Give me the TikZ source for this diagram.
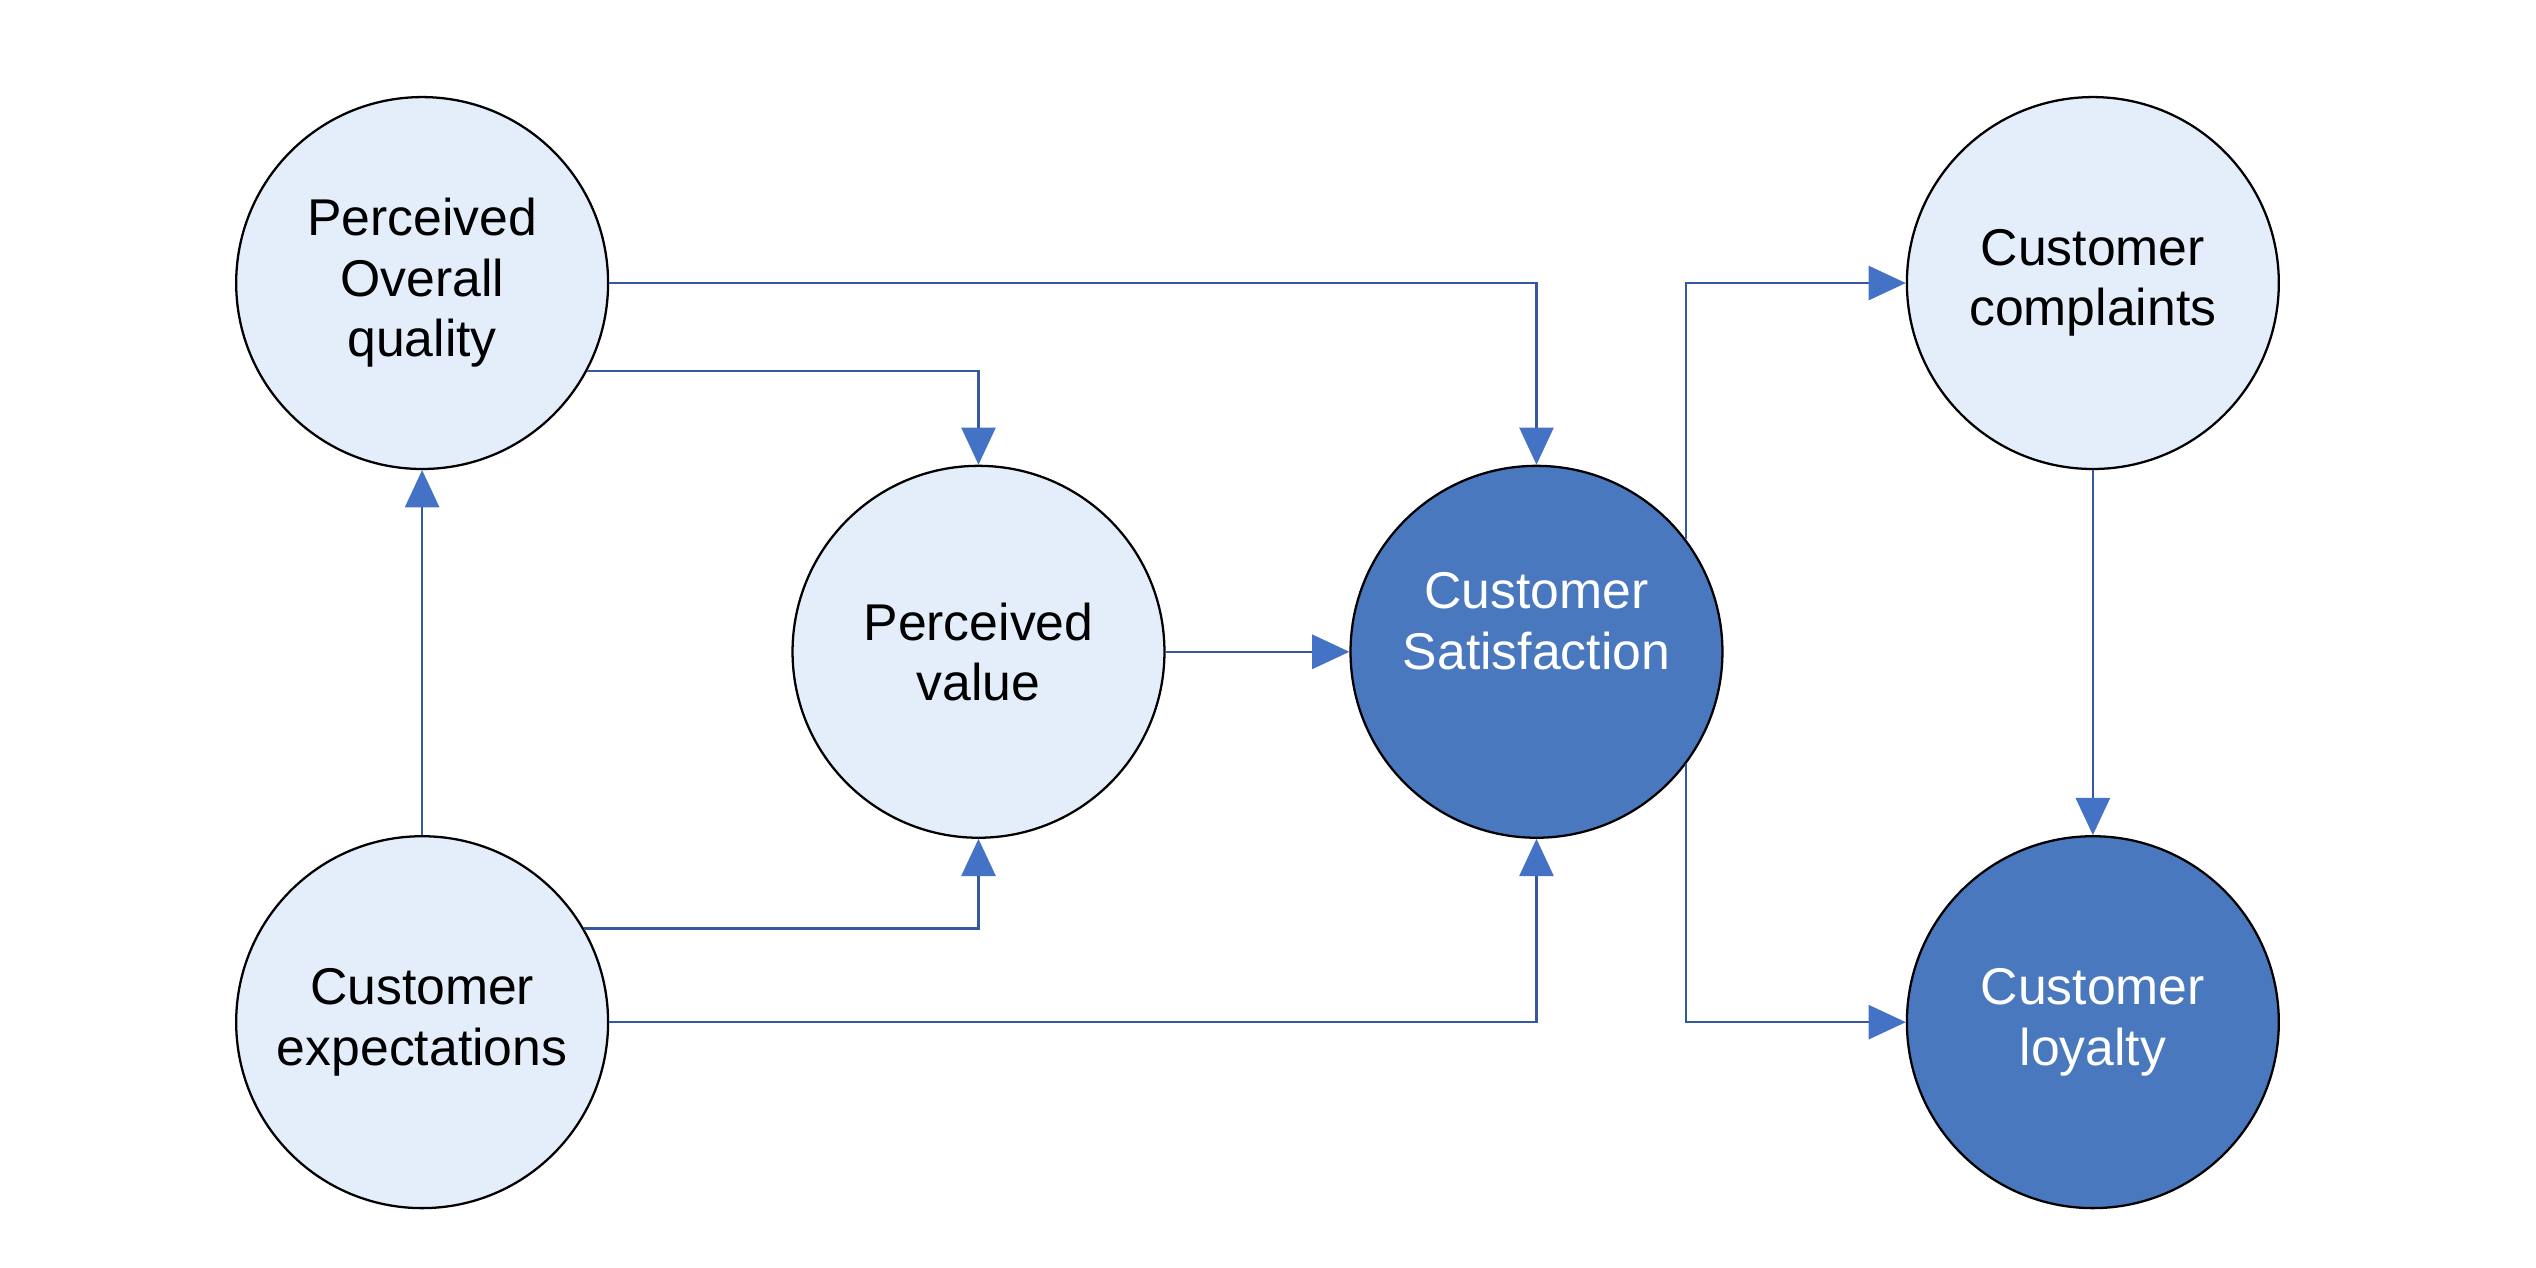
\documentclass[tikz,border=0pt]{standalone}
\usepackage{fontspec}
\setmainfont{Liberation Sans}
\usetikzlibrary{arrows.meta}
\definecolor{lightfill}{HTML}{E4EEFA}
\definecolor{darkfill}{HTML}{4A78BE}
\definecolor{linecol}{HTML}{34599F}
\definecolor{tipcol}{HTML}{4472C4}
\tikzset{
  bubble/.style={circle, draw=black, line width=0.8pt, minimum size=4.6cm, inner sep=0pt,
    align=center, font=\fontsize{18.2}{21.3}\selectfont},
  lightbubble/.style={bubble, fill=lightfill, text=black},
  darkbubble/.style={bubble, fill=darkfill, text=white},
  conn/.style={draw=linecol, line width=0.8pt,
    -{Triangle[length=0.46cm, width=0.43cm, color=tipcol, fill=tipcol, line width=0pt]}}
}
\begin{document}
\begin{tikzpicture}[x=0.02cm, y=-0.02cm]
\useasboundingbox (0,0) rectangle (1568,784);
\node[lightbubble] (PQ) at (261,175) {Perceived\\Overall\\quality};
\node[lightbubble] (PV) at (605,403) {Perceived\\value};
\node[darkbubble, label={[white, align=center, font=\fontsize{18.2}{21.3}\selectfont, yshift=0.38cm]center:Customer\\Satisfaction}] (CS) at (950,403) {};
\node[lightbubble] (CC) at (1294,175) {Customer\\complaints};
\node[darkbubble] (CL) at (1294,632) {Customer\\loyalty};
\node[lightbubble] (CE) at (261,632) {Customer\\expectations};

\draw[conn] (PQ.east) -| (CS.north);
\draw[conn] (PQ.-28) -| (PV.north);
\draw[conn] (CE.north) -- (PQ.south);
\draw[conn] (CE.30) -| (PV.south);
\draw[conn] (CE.east) -| (CS.south);
\draw[conn] (PV.east) -- (CS.west);
\draw[conn] (CS.37) |- (CC.west);
\draw[conn] (CS.-37) |- (CL.west);
\draw[conn] (CC.south) -- (CL.north);
\end{tikzpicture}
\end{document}
